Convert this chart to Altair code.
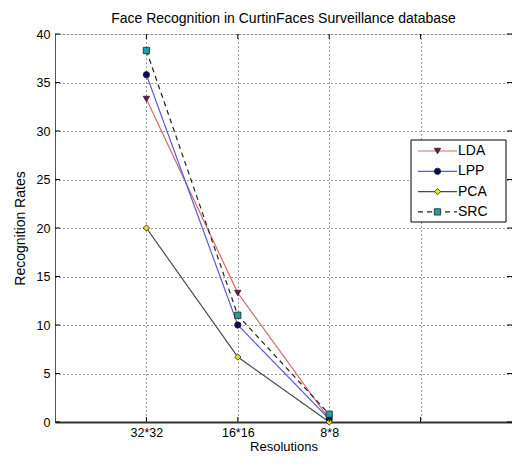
import altair as alt
import pandas as pd

# ---- data ----
resolutions = ["32*32", "16*16", "8*8"]
series = ["LDA", "LPP", "PCA", "SRC"]
lda = [33.3, 13.3, 0.3]
lpp = [35.8, 10.0, 0.3]
pca = [20.0, 6.7, 0.0]
src = [38.3, 11.0, 0.8]
y_ticks = list(range(0, 41, 5))
x_ticks = [1, 2, 3, 4]

# ---- styles ----
line_colors = ["#d46a6a", "#5b5bd0", "#4a4a4a", "#222222"]
marker_fill = ["#7a0c5a", "#0a0a5a", "#e8e020", "#1aa3a3"]
marker_shapes = ["triangle-down", "circle", "diamond", "square"]
dashes = [[1, 0], [1, 0], [1, 0], [5, 4]]

W, H = 457, 388
FONT = "Liberation Sans"

values = {"LDA": lda, "LPP": lpp, "PCA": pca, "SRC": src}
rows = []
for s in series:
    for i, r in enumerate(resolutions):
        rows.append({"series": s, "res": r, "pos": i + 1, "rate": values[s][i]})
df = pd.DataFrame(rows)

label_expr = "".join(
    f"datum.value=={i+1}?'{r}':" for i, r in enumerate(resolutions)
) + "''"

xscale = alt.Scale(domain=[0, 5], nice=False, zero=False)
yscale = alt.Scale(domain=[0, 40], nice=False)

x_axis = alt.Axis(values=x_ticks, labelExpr=label_expr, title="Resolutions",
                  ticks=False, grid=True, gridDash=[1, 3], gridColor="#333",
                  labelPadding=4, labelFontSize=12.5, titleFontSize=13,
                  titleFontWeight="normal", titleY=18, titleBaseline="top",
                  domainColor="#333", domainWidth=2)
y_axis = alt.Axis(values=y_ticks, title="Recognition Rates", ticks=False,
                  grid=True, gridDash=[1, 3], gridColor="#333",
                  labelPadding=5, labelFontSize=12.5, titleFontSize=14,
                  titleFontWeight="normal", titlePadding=9,
                  domainColor="#555")

lines = alt.Chart(df).mark_line(strokeWidth=1.2).encode(
    x=alt.X("pos:Q", scale=xscale, axis=x_axis),
    y=alt.Y("rate:Q", scale=yscale, axis=y_axis),
    color=alt.Color("series:N", scale=alt.Scale(domain=series, range=line_colors), legend=None),
    strokeDash=alt.StrokeDash("series:N", scale=alt.Scale(domain=series, range=dashes), legend=None),
    detail="series:N",
)

points = alt.Chart(df).mark_point(filled=True, size=40, stroke="#222", strokeWidth=0.8, opacity=1).encode(
    x=alt.X("pos:Q", scale=xscale, axis=x_axis),
    y=alt.Y("rate:Q", scale=yscale, axis=y_axis),
    fill=alt.Fill("series:N", scale=alt.Scale(domain=series, range=marker_fill), legend=None),
    shape=alt.Shape("series:N", scale=alt.Scale(domain=series, range=marker_shapes), legend=None),
)

ydf = pd.DataFrame({"v": y_ticks})
xdf = pd.DataFrame({"v": x_ticks})
ytick_l = alt.Chart(ydf).mark_rule(color="#000").encode(
    y=alt.Y("v:Q", scale=yscale, axis=y_axis), x=alt.value(0), x2=alt.value(5))
ytick_r = alt.Chart(ydf).mark_rule(color="#000").encode(
    y=alt.Y("v:Q", scale=yscale, axis=y_axis), x=alt.value(W - 5), x2=alt.value(W))
xtick_b = alt.Chart(xdf).mark_rule(color="#000").encode(
    x=alt.X("v:Q", scale=xscale, axis=x_axis), y=alt.value(H - 5), y2=alt.value(H))
xtick_t = alt.Chart(xdf).mark_rule(color="#000").encode(
    x=alt.X("v:Q", scale=xscale, axis=x_axis), y=alt.value(0), y2=alt.value(5))

# ---- manual legend ----
one = alt.Data(values=[{"a": 1}])
lx0, lx1, ly0, ly1 = 356, 451, 106, 188
legend_layers = [
    alt.Chart(one).mark_rect(fill="white", stroke="#000", strokeWidth=1).encode(
        x=alt.value(lx0), x2=alt.value(lx1), y=alt.value(ly0), y2=alt.value(ly1))
]
for i, s in enumerate(series):
    yy = 117 + i * 20.3
    legend_layers.append(
        alt.Chart(one).mark_rule(strokeWidth=1.2, strokeDash=dashes[i], color=line_colors[i]).encode(
            x=alt.value(lx0 + 7), x2=alt.value(lx0 + 46), y=alt.value(yy)))
    legend_layers.append(
        alt.Chart(one).mark_point(filled=True, size=40, stroke="#222", strokeWidth=0.8, opacity=1,
                                  shape=marker_shapes[i], fill=marker_fill[i]).encode(
            x=alt.value(lx0 + 26.5), y=alt.value(yy)))
    legend_layers.append(
        alt.Chart(one).mark_text(align="left", baseline="middle", fontSize=14, font=FONT, color="#000").encode(
            x=alt.value(lx0 + 47), y=alt.value(yy), text=alt.value(s)))

chart = alt.layer(lines, points, ytick_l, ytick_r, xtick_b, xtick_t, *legend_layers).properties(
    width=W, height=H,
    title=alt.TitleParams("Face Recognition in CurtinFaces Surveillance database",
                          fontSize=14, font=FONT, fontWeight="normal", offset=2, anchor="middle"),
    autosize=alt.AutoSizeParams(type="none"),
    padding={"left": 47, "top": 26, "right": 0, "bottom": 30},
).configure_view(stroke="#000", strokeWidth=1).configure_axis(
    labelFont=FONT, titleFont=FONT, labelColor="#000", titleColor="#000",
).configure(background="white")

chart.save("out.html", embed_options={"renderer": "svg", "actions": False})
